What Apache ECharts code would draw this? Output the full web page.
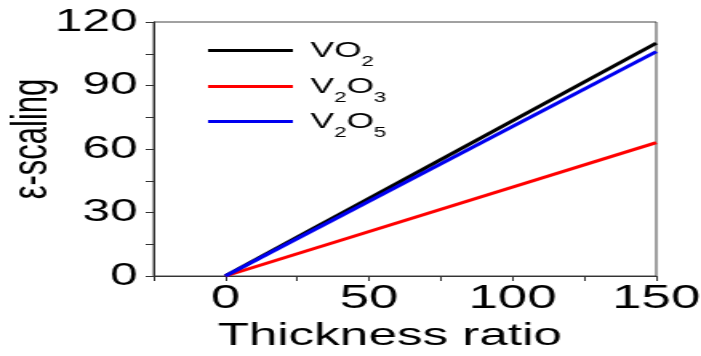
<!DOCTYPE html>
<html>
<head>
<meta charset="utf-8">
<script src="https://cdn.jsdelivr.net/npm/echarts@6/dist/echarts.min.js"></script>
<style>
  html, body { margin: 0; padding: 0; background: #fff; overflow: hidden; }
  #wrap { width: 701px; height: 356px; overflow: hidden; }
  /* the plot is laid out narrow and widened horizontally */
  #chart { width: 438px; height: 356px; transform: scaleX(1.6005); transform-origin: 0 0; }
</style>
</head>
<body>
<div id="wrap"><div id="chart"></div></div>
<script>
// ---- data ----
const seriesNames = ['VO2', 'V2O3', 'V2O5'];
const seriesColors = ['#000000', '#ff0000', '#0000f0'];
const thicknessRatio = [0, 150];
const scalingVO2 = [0, 110];
const scalingV2O3 = [0, 63];
const scalingV2O5 = [0, 106];
const xTickLabels = [0, 50, 100, 150];
const xTicks = [-25, 0, 25, 50, 75, 100, 125, 150];
const yTickLabels = [0, 30, 60, 90, 120];
const yTicks = [0, 15, 30, 45, 60, 75, 90, 105, 120];

const FONT = 'Liberation Sans, Arial, sans-serif';
const AXIS_COLOR = '#333';

function pairs(xs, ys) { return xs.map((x, i) => [x, ys[i]]); }
const seriesValues = [scalingVO2, scalingV2O3, scalingV2O5];

// chemical formula with subscript digits
function richName(name) {
  const parts = name.match(/\D+|\d+/g);
  return parts.map((p, i) => /\d/.test(p) ? '{s|' + p + '}' : (i === 0 ? '{f|' : '{n|') + p + '}').join('');
}
const rich = {
  f: { fontSize: 22, lineHeight: 22, padding: [0, 0, 0, 6], fontFamily: FONT, color: '#000', verticalAlign: 'middle' },
  n: { fontSize: 22, lineHeight: 22, fontFamily: FONT, color: '#000', verticalAlign: 'middle' },
  s: { fontSize: 14, lineHeight: 13, padding: [24, 0, 0, 0], fontFamily: FONT, color: '#000', verticalAlign: 'middle' }
};
const legendTops = [31.5, 67.5, 102.5];

const chart = echarts.init(document.getElementById('chart'), null, { renderer: 'canvas' });
chart.setOption({
  animation: false,
  backgroundColor: '#fff',
  grid: {
    left: 96, right: 28, top: 22, bottom: 80,
    outerBoundsMode: 'none', containLabel: false,
    show: true, borderColor: '#444', borderWidth: 1, backgroundColor: 'transparent'
  },
  legend: seriesNames.map((name, i) => ({
    data: [{ name: name, icon: 'rect' }],
    orient: 'vertical',
    left: 130,
    top: legendTops[i],
    padding: 0,
    itemWidth: 53,
    itemHeight: 3,
    selectedMode: false,
    formatter: richName,
    textStyle: { rich: rich }
  })),
  xAxis: {
    type: 'value', min: -25, max: 150,
    axisLine: { show: true, onZero: false, lineStyle: { color: AXIS_COLOR, width: 1 } },
    axisTick: { show: true, customValues: xTicks, length: 5, lineStyle: { color: AXIS_COLOR } },
    axisLabel: { customValues: xTickLabels, fontSize: 33, color: '#000', margin: 6, fontFamily: FONT },
    splitLine: { show: false },
    name: 'Thickness ratio', nameLocation: 'middle', nameGap: 44, nameMoveOverlap: false,
    nameTextStyle: { fontSize: 32, color: '#000', fontFamily: FONT, padding: [0, 19, 0, 0] }
  },
  yAxis: {
    type: 'value', min: 0, max: 120,
    axisLine: { show: true, onZero: false, lineStyle: { color: AXIS_COLOR, width: 1 } },
    axisTick: { show: true, customValues: yTicks, length: 5, lineStyle: { color: AXIS_COLOR } },
    axisLabel: { customValues: yTickLabels, fontSize: 31, color: '#000', margin: 10, fontFamily: FONT },
    splitLine: { show: false },
    name: 'ε-scaling', nameLocation: 'middle', nameGap: 60, nameMoveOverlap: false,
    nameTextStyle: { fontSize: 31, color: '#000', fontFamily: FONT, padding: [0, 0, 0, 20] }
  },
  series: seriesNames.map((name, i) => ({
    name: name,
    type: 'line',
    data: pairs(thicknessRatio, seriesValues[i]),
    showSymbol: false,
    symbol: 'none',
    color: seriesColors[i],
    itemStyle: { color: seriesColors[i] },
    lineStyle: { color: seriesColors[i], width: 3 }
  }))
});
</script>
</body>
</html>
